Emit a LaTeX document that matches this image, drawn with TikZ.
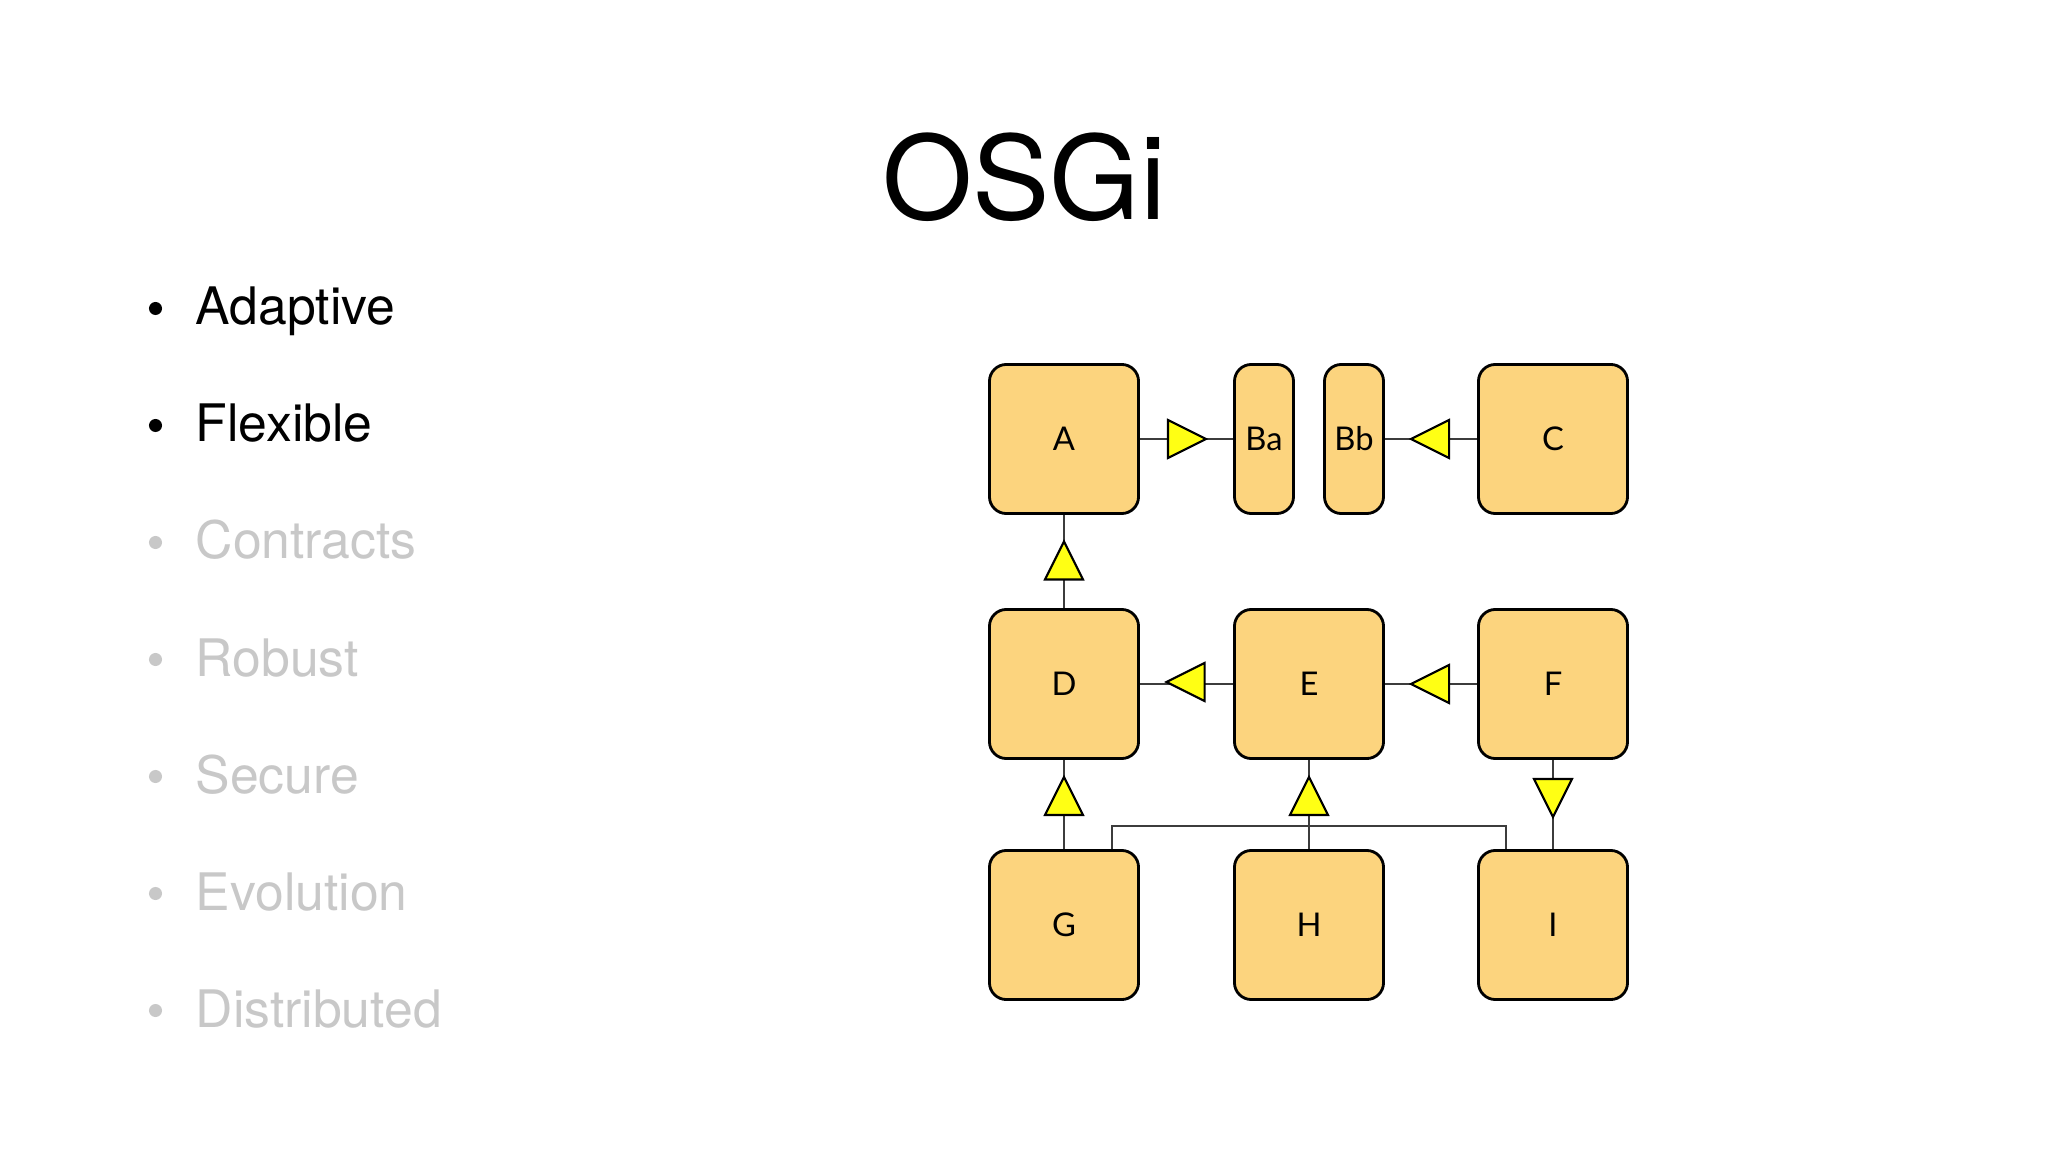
\documentclass[tikz,border=0pt]{standalone}
\usepackage{fontspec}
\setmainfont{TeX Gyre Heros}
\newfontfamily\boxfont{Lato}
\usetikzlibrary{calc}
\definecolor{boxfill}{RGB}{252,212,126}
\definecolor{triyellow}{RGB}{255,255,20}
\definecolor{dimtext}{RGB}{200,200,200}
\definecolor{connclr}{RGB}{60,60,60}
\tikzset{
  bundle/.style={draw=black, line width=0.8pt, fill=boxfill, rounded corners=4.8pt,
    minimum width=1.49cm, minimum height=1.49cm, inner sep=0pt,
    font=\boxfont\fontsize{9.3}{11}\selectfont},
  slim/.style={bundle, minimum width=0.59cm},
  conn/.style={draw=connclr, line width=0.5pt},
  tri/.pic={\draw[fill=triyellow, line width=0.6pt, line join=miter] (-19,-19)--(19,0)--(-19,19)--cycle;},
  itemtxt/.style={anchor=base west, inner sep=0pt, font=\fontsize{14.7}{17}\selectfont},
  dot/.style={circle, fill, inner sep=0pt, minimum size=0.13cm}
}
\begin{document}
\begin{tikzpicture}[x=0.01cm, y=-0.01cm]
\useasboundingbox[fill=white] (0,0) rectangle (2048,1152);

% title
\node[inner sep=0pt, font=\fontsize{33}{38}\selectfont] (title) at (1024,177) {OSGi};

% bullets
\node[dot] (b1) at (155.5,308.5) {};
\node[itemtxt] (t1) at (195,325) {Adaptive};
\node[dot] (b2) at (155.5,425.5) {};
\node[itemtxt] (t2) at (195,442) {Flexible};
\node[dot, dimtext] (b3) at (155.5,542.5) {};
\node[itemtxt, text=dimtext] (t3) at (195,559) {Contracts};
\node[dot, dimtext] (b4) at (155.5,659.5) {};
\node[itemtxt, text=dimtext] (t4) at (195,676) {Robust};
\node[dot, dimtext] (b5) at (155.5,776.5) {};
\node[itemtxt, text=dimtext] (t5) at (195,793) {Secure};
\node[dot, dimtext] (b6) at (155.5,893.5) {};
\node[itemtxt, text=dimtext] (t6) at (195,910) {Evolution};
\node[dot, dimtext] (b7) at (155.5,1010.5) {};
\node[itemtxt, text=dimtext] (t7) at (195,1027) {Distributed};

% bundles
\node[bundle] (A) at (1064,439) {A};
\node[slim] (Ba) at (1264,439) {Ba};
\node[slim] (Bb) at (1354,439) {Bb};
\node[bundle] (C) at (1553,439) {C};
\node[bundle] (D) at (1064,684) {D};
\node[bundle] (E) at (1309,684) {E};
\node[bundle] (F) at (1553,684) {F};
\node[bundle] (G) at (1064,925) {G};
\node[bundle] (H) at (1309,925) {H};
\node[bundle] (I) at (1553,925) {I};

% connectors
\draw[conn] (A.east) -- (Ba.west);
\draw[conn] (C.west) -- (Bb.east);
\draw[conn] (D.north) -- (A.south);
\draw[conn] (E.west) -- (D.east);
\draw[conn] (F.west) -- (E.east);
\draw[conn] (G.north) -- (D.south);
\draw[conn] (H.north) -- (E.south);
\draw[conn] (F.south) -- (I.north);
\draw[conn] ($(G.north)+(48,0)$) |- ($(I.north)+(-47,-23)$) -- ($(I.north)+(-47,0)$);

% interface triangles
\pic at ($(A.east)+(47,0)$) {tri};
\pic[rotate=180] at ($(C.west)+(-47,0)$) {tri};
\pic[rotate=90] at ($(D.north)+(0,-47.5)$) {tri};
\pic[rotate=180] at ($(E.west)+(-47.5,-2)$) {tri};
\pic[rotate=180] at ($(F.west)+(-47,0)$) {tri};
\pic[rotate=90] at ($(G.north)+(0,-53)$) {tri};
\pic[rotate=90] at ($(H.north)+(0,-53)$) {tri};
\pic[rotate=-90] at ($(F.south)+(0,38)$) {tri};
\end{tikzpicture}
\end{document}
